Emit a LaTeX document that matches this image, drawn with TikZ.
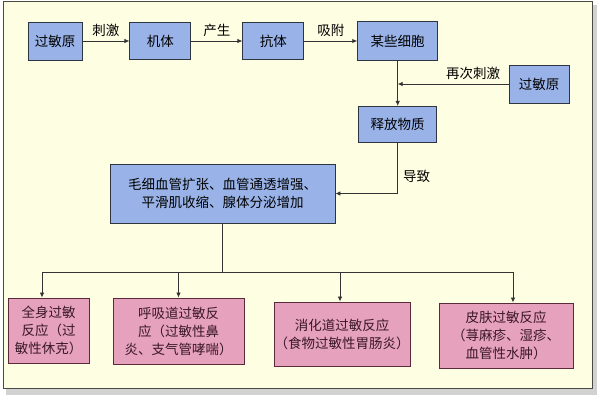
\documentclass[tikz,border=0pt]{standalone}
\usepackage{fontspec}
\newfontfamily\cjk{Noto Sans CJK SC}
\usepackage{xcolor}
\usepackage{tikz}
\usetikzlibrary{arrows.meta,positioning}
\definecolor{boxblue}{HTML}{99B3E8}
\definecolor{boxline}{HTML}{2E3440}
\definecolor{boxpink}{HTML}{E6A1BD}
\definecolor{pinkline}{HTML}{5A2A3C}
\definecolor{pinktext}{HTML}{3A1826}
\definecolor{cream}{HTML}{FEFEE3}
\definecolor{frameline}{HTML}{4A4A44}
\definecolor{arrowgray}{HTML}{333333}
\tikzset{
  bluebox/.style={draw=boxline, fill=boxblue, line width=0.9pt, align=center, inner sep=0pt, font=\cjk\fontsize{13.5}{18}\selectfont},
  pinkbox/.style={draw=pinkline, fill=boxpink, text=pinktext, line width=0.9pt, align=center, inner sep=0pt, font=\cjk\fontsize{13.5}{18}\selectfont},
  lbl/.style={font=\cjk\fontsize{13.5}{15}\selectfont, inner sep=1pt},
  edge/.style={-{Latex[length=5pt,width=4.5pt]}, line width=0.8pt, draw=arrowgray},
  plainedge/.style={line width=0.8pt, draw=arrowgray}
}
\begin{document}
\begin{tikzpicture}[x=1pt, y=-1pt]
  \useasboundingbox (0,0) rectangle (600,400);
  % background frame
  \fill[gray!35] (6,5) rectangle (597,395);
  \draw[frameline, fill=cream, line width=0.9pt] (3,1) rectangle (592,388);
  % top row
  \node[bluebox, minimum width=54pt, minimum height=38pt] (ag1) at (55,41) {过敏原};
  \node[bluebox, minimum width=61pt, minimum height=37pt, right=47pt of ag1] (body) {机体};
  \node[bluebox, minimum width=61pt, minimum height=37pt, right=51pt of body] (antibody) {抗体};
  \node[bluebox, minimum width=80pt, minimum height=39pt, right=53pt of antibody] (cells) {某些细胞};
  \node[bluebox, minimum width=60pt, minimum height=38pt] (ag2) at (539,84) {过敏原};
  \node[bluebox, minimum width=78pt, minimum height=36pt, below=45pt of cells] (release) {释放物质};
  \node[bluebox, minimum width=225pt, minimum height=59pt] (effect) at (222.5,193.5) {毛细血管扩张、血管通透增强、\\平滑肌收缩、腺体分泌增加};
  % reactions
  \node[pinkbox, minimum width=81pt, minimum height=65pt] (sys) at (48.5,330.5) {全身过敏\\反应（过\\敏性休克）};
  \node[pinkbox, minimum width=131pt, minimum height=66pt] (resp) at (178.5,331) {呼吸道过敏反\\应（过敏性鼻\\炎、支气管哮喘）};
  \node[pinkbox, minimum width=136pt, minimum height=64pt] (dig) at (342,334) {消化道过敏反应\\（食物过敏性胃肠炎）};
  \node[pinkbox, minimum width=134pt, minimum height=65pt] (skin) at (506,335.5) {皮肤过敏反应\\（荨麻疹、湿疹、\\血管性水肿）};
  % connectors
  \draw[edge] (ag1) -- (body) node[midway, above=3pt, lbl] {刺激};
  \draw[edge] (body) -- (antibody) node[midway, above=3pt, lbl] {产生};
  \draw[edge] (antibody) -- (cells) node[midway, above=3pt, lbl] {吸附};
  \draw[edge] (cells) -- (release);
  \draw[edge] (ag2.west) -- (ag2.west -| cells.south) node[pos=0.32, above=3pt, lbl] {再次刺激};
  \draw[edge] (release.south) |- (effect.east) node[pos=0.33, right=4pt, lbl] {导致};
  \coordinate[below=49pt of effect.south] (bus);
  \coordinate (d1) at ([xshift=-6.5pt]sys.north);
  \coordinate (d2) at (resp.north);
  \coordinate (d3) at ([xshift=-2pt]dig.north);
  \coordinate (d4) at ([xshift=7pt]skin.north);
  \draw[plainedge] (effect.south) -- (bus);
  \draw[plainedge] (d1 |- bus) -- (d4 |- bus);
  \foreach \d in {d1,d2,d3,d4}
    \draw[edge] (\d |- bus) -- (\d);
\end{tikzpicture}
\end{document}
